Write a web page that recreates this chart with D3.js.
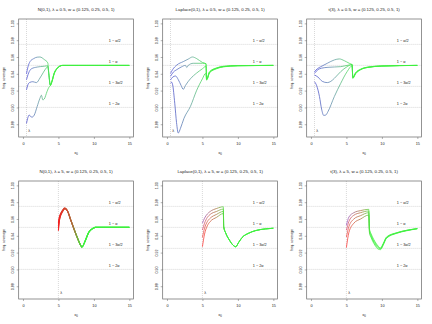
<!DOCTYPE html>
<html>
<head>
<meta charset="utf-8">
<script src="https://cdn.jsdelivr.net/npm/d3@7"></script>
<style>
  body { margin: 0; background: #fff; }
  text { font-family: "Liberation Sans", Arial, sans-serif; fill: #222; }
</style>
</head>
<body>
<script>
// panel titles and prior location
const titles = [
    "N(0,1), λ = 0.5, w = (0.125, 0.25, 0.5, 1)",
    "Laplace(0,1), λ = 0.5, w = (0.125, 0.25, 0.5, 1)",
    "t(3), λ = 0.5, w = (0.125, 0.25, 0.5, 1)",
    "N(0,1), λ = 5, w = (0.125, 0.25, 0.5, 1)",
    "Laplace(0,1), λ = 5, w = (0.125, 0.25, 0.5, 1)",
    "t(3), λ = 5, w = (0.125, 0.25, 0.5, 1)",
];
const lambdas = [0.5, 0.5, 0.5, 5, 5, 5];
const greenAt = [4.0, 5.7, 6.0, 8.4, 8.2, 8.4];

const refLevels = [0.975, 0.95, 0.925, 0.90];
const refLabels = ["1 − α/2", "1 − α", "1 − 3α/2", "1 − 2α"];
const yTicks = [0.88, 0.90, 0.92, 0.94, 0.96, 0.98, 1.00];
const xTicks = [0, 5, 10, 15];

// coverage curves, one per w, as [kappa0, coverage]
const normSmall = [
    [[0.5,0.940],[0.7,0.948],[1.0,0.9545],[1.5,0.958],[2.0,0.9598],[2.4,0.960],[3.0,0.957],[3.5,0.953],[3.65,0.940],[3.85,0.927],[4.1,0.932],[4.4,0.941],[4.8,0.947],[5.2,0.9495],[5.6,0.950],[15,0.950]],
    [[0.5,0.933],[0.8,0.941],[1.2,0.946],[2.0,0.948],[3.0,0.949],[3.5,0.9495],[3.65,0.940],[3.85,0.9265],[4.1,0.931],[4.4,0.940],[4.8,0.946],[5.2,0.949],[5.6,0.950],[15,0.950]],
    [[0.5,0.921],[0.7,0.927],[0.95,0.9297],[1.4,0.9306],[1.9,0.9295],[2.4,0.935],[2.9,0.942],[3.3,0.947],[3.5,0.9485],[3.65,0.939],[3.85,0.926],[4.1,0.931],[4.4,0.940],[4.8,0.946],[5.2,0.949],[5.6,0.950],[15,0.950]],
    [[0.5,0.881],[0.7,0.888],[0.88,0.891],[1.1,0.889],[1.3,0.8885],[1.6,0.891],[2.0,0.901],[2.4,0.911],[2.6,0.9145],[2.8,0.909],[3.0,0.910],[3.4,0.919],[3.7,0.9245],[3.85,0.9255],[4.1,0.931],[4.4,0.9405],[4.8,0.946],[5.2,0.949],[5.6,0.950],[15,0.950]],
];
const laplaceSmall = [
    [[0.5,0.9405],[0.8,0.945],[1.4,0.9505],[2.3,0.9545],[3.0,0.9575],[3.6,0.960],[4.2,0.958],[5.0,0.9535],[5.5,0.952],[5.6,0.934],[6.0,0.9425],[7,0.947],[8,0.949],[10,0.9498],[15,0.950]],
    [[0.5,0.937],[0.9,0.942],[1.4,0.945],[2.0,0.948],[2.6,0.950],[2.8,0.9475],[3.0,0.950],[3.7,0.9525],[5.0,0.9525],[5.5,0.952],[5.6,0.9335],[6.0,0.942],[7,0.9468],[8,0.9487],[10,0.9497],[15,0.950]],
    [[0.5,0.9327],[0.8,0.936],[1.2,0.9374],[1.6,0.933],[2.0,0.926],[2.3,0.9215],[2.6,0.926],[3.3,0.934],[4.2,0.941],[5.0,0.946],[5.5,0.949],[5.6,0.933],[6.0,0.9415],[7,0.9465],[8,0.9485],[10,0.9496],[15,0.950]],
    [[0.5,0.9287],[0.65,0.930],[0.8,0.927],[1.1,0.905],[1.35,0.882],[1.6,0.8695],[1.9,0.875],[2.4,0.887],[3.3,0.901],[4.2,0.9205],[5.0,0.934],[5.45,0.9405],[5.6,0.9325],[6.0,0.941],[7,0.946],[8,0.9483],[10,0.9495],[15,0.950]],
];
const tSmall = [
    [[0.5,0.9426],[0.9,0.946],[1.4,0.9485],[2.3,0.9525],[3.3,0.9565],[4.0,0.9577],[4.7,0.9556],[5.4,0.9525],[5.8,0.951],[5.9,0.936],[6.3,0.9415],[7,0.9455],[8,0.948],[10,0.9494],[15,0.950]],
    [[0.5,0.9406],[1.0,0.945],[1.5,0.9467],[2.4,0.9477],[4.2,0.9485],[5.4,0.9505],[5.8,0.951],[5.9,0.9355],[6.3,0.941],[7,0.9452],[8,0.9478],[10,0.9493],[15,0.950]],
    [[0.5,0.9386],[1.0,0.936],[1.6,0.931],[2.3,0.9295],[2.8,0.931],[3.3,0.9346],[4.2,0.9426],[5.1,0.9485],[5.8,0.951],[5.9,0.935],[6.3,0.9405],[7,0.945],[8,0.9476],[10,0.9492],[15,0.950]],
    [[0.5,0.9306],[0.8,0.926],[1.2,0.913],[1.5,0.898],[1.8,0.8905],[2.1,0.891],[2.4,0.895],[3.3,0.913],[4.2,0.9287],[5.1,0.9426],[5.8,0.9495],[5.9,0.9345],[6.3,0.940],[7,0.9448],[8,0.9475],[10,0.9491],[15,0.950]],
];
const normLarge = [
    [[5.0,0.955],[5.15,0.963],[5.6,0.9705],[5.9,0.9732],[6.25,0.970],[6.75,0.9585],[7.45,0.9425],[8.15,0.9285],[8.3,0.9265],[8.8,0.9345],[9.3,0.9445],[9.9,0.949],[10.2,0.950],[15,0.950]],
    [[5.0,0.952],[5.15,0.9615],[5.6,0.970],[5.9,0.9728],[6.25,0.970],[6.75,0.9585],[7.45,0.9425],[8.15,0.9285],[8.3,0.9265],[8.8,0.9345],[9.3,0.9445],[9.9,0.949],[10.2,0.950],[15,0.950]],
    [[5.0,0.949],[5.15,0.960],[5.6,0.9695],[5.9,0.9725],[6.25,0.970],[6.75,0.9585],[7.45,0.9425],[8.15,0.9285],[8.3,0.9265],[8.8,0.9345],[9.3,0.9445],[9.9,0.949],[10.2,0.950],[15,0.950]],
    [[5.0,0.946],[5.15,0.9585],[5.6,0.969],[5.9,0.972],[6.25,0.970],[6.75,0.9585],[7.45,0.9425],[8.15,0.9285],[8.3,0.9265],[8.8,0.9345],[9.3,0.9445],[9.9,0.949],[10.2,0.950],[15,0.950]],
];
const laplaceLarge = [
    [[5.0,0.955],[5.3,0.961],[5.7,0.966],[6.1,0.969],[7.0,0.9725],[7.95,0.9745],[8.0,0.951],[8.3,0.943],[8.8,0.935],[9.3,0.929],[9.7,0.927],[10.1,0.932],[10.6,0.938],[11.5,0.943],[12.5,0.9462],[13.9,0.9482],[15,0.949]],
    [[5.0,0.947],[5.3,0.955],[5.7,0.962],[6.1,0.9655],[7.0,0.969],[7.95,0.9718],[8.0,0.951],[8.3,0.943],[8.8,0.935],[9.3,0.929],[9.7,0.927],[10.1,0.932],[10.6,0.938],[11.5,0.943],[12.5,0.9462],[13.9,0.9482],[15,0.949]],
    [[5.0,0.938],[5.3,0.949],[5.7,0.957],[6.1,0.961],[7.0,0.9655],[7.95,0.969],[8.0,0.951],[8.3,0.943],[8.8,0.935],[9.3,0.929],[9.7,0.927],[10.1,0.932],[10.6,0.938],[11.5,0.943],[12.5,0.9462],[13.9,0.9482],[15,0.949]],
    [[5.0,0.927],[5.3,0.942],[5.7,0.952],[6.1,0.957],[7.0,0.962],[7.95,0.9665],[8.0,0.951],[8.3,0.943],[8.8,0.935],[9.3,0.929],[9.7,0.927],[10.1,0.932],[10.6,0.938],[11.5,0.943],[12.5,0.9462],[13.9,0.9482],[15,0.949]],
];
const tLarge = [
    [[5.0,0.9525],[5.35,0.9623],[6.05,0.9675],[7,0.970],[8.15,0.9715],[8.25,0.948],[8.5,0.942],[9.0,0.9335],[9.5,0.9275],[9.8,0.9255],[10.2,0.931],[10.65,0.9386],[12.1,0.9437],[13.5,0.9466],[15,0.9485]],
    [[5.0,0.9466],[5.35,0.957],[6.05,0.9645],[7,0.9675],[8.15,0.9695],[8.25,0.9465],[8.5,0.9405],[9.0,0.932],[9.5,0.9265],[9.8,0.925],[10.2,0.9305],[10.65,0.938],[12.1,0.9435],[13.5,0.9465],[15,0.9485]],
    [[5.0,0.9386],[5.35,0.951],[6.05,0.960],[7,0.964],[8.15,0.9675],[8.25,0.945],[8.5,0.939],[9.0,0.9305],[9.5,0.9255],[9.8,0.9245],[10.2,0.930],[10.65,0.9375],[12.1,0.9432],[13.5,0.9463],[15,0.9485]],
    [[5.0,0.926],[5.35,0.944],[6.05,0.955],[7,0.960],[8.15,0.9647],[8.25,0.9435],[8.5,0.9375],[9.0,0.929],[9.5,0.924],[9.8,0.9235],[10.2,0.929],[10.65,0.937],[12.1,0.943],[13.5,0.946],[15,0.9485]],
];
const panels = [normSmall, laplaceSmall, tSmall, normLarge, laplaceLarge, tLarge];

// colour ramps: start colour per curve, then to green
const smallStart = ["#4d4dd8", "#4a4ad4", "#4848d0", "#4444cc"];
const largeStart = [
    ["#ee2020", "#f02020", "#f22020", "#f42020"],
    ["#a050b4", "#d84670", "#ec4444", "#ff3030"],
    ["#9a50bc", "#d84670", "#ec4444", "#ff3030"],
];
const green = "#3cf03c";

const W = 432, H = 324;
const pw = 144, ph = 162;
const box = {left: 18.7, right: 133.6, top: 19, bottom: 137};

const svg = d3.select("body").append("svg")
    .attr("width", W)
    .attr("height", H);
const defs = svg.append("defs");

const x = d3.scaleLinear().domain([-0.6, 15.6]).range([box.left, box.right]);
const y = d3.scaleLinear().domain([0.8648, 1.0052]).range([box.bottom, box.top]);

const line = d3.line()
    .x(d => x(d[0]))
    .y(d => y(d[1]))
    .curve(d3.curveMonotoneX);

panels.forEach((curves, p) => {
    const col = p % 3, row = Math.floor(p / 3);
    const lam = lambdas[p];
    const g = svg.append("g")
        .attr("transform", `translate(${col * pw}, ${row * ph})`);

    g.append("text")
        .attr("x", (box.left + box.right) / 2)
        .attr("y", 11)
        .attr("text-anchor", "middle")
        .style("font-size", "4.4px")
        .text(titles[p]);

    // reference levels
    g.selectAll(".ref").data(refLevels).enter().append("line")
        .attr("x1", box.left).attr("x2", box.right)
        .attr("y1", d => y(d)).attr("y2", d => y(d))
        .attr("stroke", "#b0b0b0")
        .attr("stroke-width", 0.6)
        .attr("stroke-dasharray", "0.8,1.2");
    g.selectAll(".reflab").data(refLabels).enter().append("text")
        .attr("x", x(12.1))
        .attr("y", (d, i) => y(refLevels[i]) - 2.6)
        .style("font-size", "3.8px")
        .text(d => d);

    g.append("line")
        .attr("x1", x(lam)).attr("x2", x(lam))
        .attr("y1", box.top).attr("y2", box.bottom)
        .attr("stroke", "#b0b0b0")
        .attr("stroke-width", 0.6)
        .attr("stroke-dasharray", "0.8,1.2");
    g.append("text")
        .attr("x", x(lam) + 1.8)
        .attr("y", 131.5)
        .style("font-size", "3.8px")
        .text("λ");

    curves.forEach((pts, c) => {
        const id = `grad${p}_${c}`;
        const start = row === 0 ? smallStart[c] : largeStart[col][c];
        const mid = row === 0 ? "#5f96a0" : "#a8703a";
        const gr = defs.append("linearGradient")
            .attr("id", id)
            .attr("gradientUnits", "userSpaceOnUse")
            .attr("x1", x(lam)).attr("x2", x(greenAt[p]))
            .attr("y1", 0).attr("y2", 0);
        gr.append("stop").attr("offset", 0).attr("stop-color", start);
        gr.append("stop").attr("offset", row === 0 ? 0.5 : 0.6).attr("stop-color", mid);
        gr.append("stop").attr("offset", 1).attr("stop-color", green);
        g.append("path")
            .datum(pts)
            .attr("fill", "none")
            .attr("stroke", `url(#${id})`)
            .attr("stroke-width", row === 1 && col === 0 ? 1.1 : 0.75)
            .attr("d", line);
    });

    g.append("rect")
        .attr("x", box.left).attr("y", box.top)
        .attr("width", box.right - box.left)
        .attr("height", box.bottom - box.top)
        .attr("fill", "none")
        .attr("stroke", "#666")
        .attr("stroke-width", 0.7);

    const ya = g.append("g")
        .attr("transform", `translate(${box.left},0)`)
        .call(d3.axisLeft(y).tickValues(yTicks).tickSize(2).tickFormat(d3.format(".2f")));
    ya.select(".domain").remove();
    ya.selectAll("line").attr("stroke", "#666").attr("stroke-width", 0.5);
    ya.selectAll("text")
        .attr("x", null).attr("dy", null)
        .attr("text-anchor", "middle")
        .attr("transform", "translate(-5.2,0) rotate(-90)")
        .style("font-size", "3.6px")
        .style("font-family", "Liberation Sans, Arial, sans-serif")
        .attr("fill", "#222");

    const xa = g.append("g")
        .attr("transform", `translate(0,${box.bottom})`)
        .call(d3.axisBottom(x).tickValues(xTicks).tickSize(2));
    xa.select(".domain").remove();
    xa.selectAll("line").attr("stroke", "#666").attr("stroke-width", 0.5);
    xa.selectAll("text")
        .attr("y", 5.2).attr("dy", "0.71em")
        .style("font-size", "3.8px")
        .style("font-family", "Liberation Sans, Arial, sans-serif")
        .attr("fill", "#222");

    g.append("text")
        .attr("transform", `translate(5, ${(box.top + box.bottom) / 2}) rotate(-90)`)
        .attr("text-anchor", "middle")
        .style("font-size", "3.4px")
        .text("freq. coverage");
    const xl = g.append("text")
        .attr("x", (box.left + box.right) / 2)
        .attr("y", 154)
        .attr("text-anchor", "middle")
        .style("font-size", "3.8px")
        .text("κ");
    xl.append("tspan")
        .attr("dy", 1)
        .style("font-size", "2.8px")
        .text("0");
});
</script>
</body>
</html>
